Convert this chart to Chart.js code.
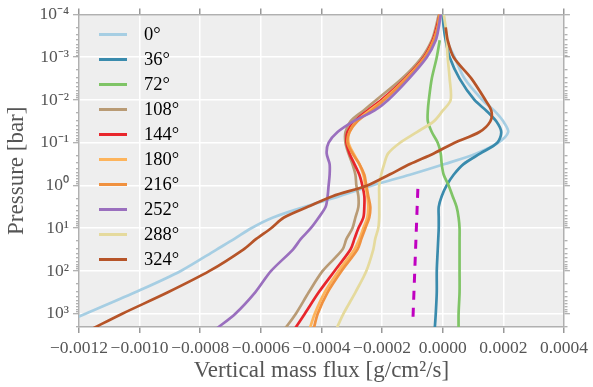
<!DOCTYPE html>
<html>
<head>
<meta charset="utf-8">
<script src="https://cdn.jsdelivr.net/npm/chart.js@4.4.1/dist/chart.umd.min.js"></script>
<style>
  body { margin: 0; background: #fff; }
  #wrap { position: relative; width: 593px; height: 387px; }
  #legenda { position: absolute; left: 0; top: 0; font-family: "Liberation Serif", serif; font-size: 18.5px; color: #000; }
  .item { position: absolute; left: 99px; }
  .amostra { position: absolute; left: 0; top: -1.5px; width: 28px; height: 3px; }
  .texto { position: absolute; left: 45px; top: -11px; line-height: 22px; white-space: nowrap; }
</style>
</head>
<body>
<div id="wrap">
  <canvas id="grafico" width="593" height="387"></canvas>
  <div id="legenda"></div>
</div>
<script>
// pressure levels [bar]
const pressure = [1e-4, 2e-4, 4e-4, 1e-3, 3.16e-3, 1e-2, 1.78e-2, 3.16e-2, 5.62e-2, 0.1, 0.178, 0.316,
  0.562, 1, 1.78, 3.16, 5.62, 10, 17.8, 31.6, 100, 316, 1000, 2240];

// vertical mass flux [g/cm2/s] for each longitude
const flux0 = [0.033e-4, 0.065e-4, 0.131e-4, 0.393e-4, 0.720e-4, 1.309e-4, 1.702e-4, 1.997e-4, 2.160e-4, 1.833e-4,
  1.113e-4, 0.065e-4, -1.080e-4, -2.324e-4, -3.404e-4, -4.549e-4, -5.597e-4, -6.317e-4, -6.873e-4, -7.462e-4,
  -8.641e-4, -10.146e-4, -11.783e-4, -12.961e-4];
const flux36 = [0, 0.033e-4, 0.098e-4, 0.229e-4, 0.556e-4, 1.047e-4, 1.440e-4, 1.767e-4, 1.931e-4, 1.800e-4,
  1.244e-4, 0.687e-4, 0.360e-4, 0.131e-4, -0.033e-4, -0.131e-4, -0.131e-4, -0.131e-4, -0.147e-4, -0.164e-4,
  -0.196e-4, -0.196e-4, -0.229e-4, -0.262e-4];
const flux72 = [null, null, -0.098e-4, -0.196e-4, -0.360e-4, -0.458e-4, -0.491e-4, -0.491e-4, -0.360e-4, -0.164e-4,
  -0.065e-4, -0.033e-4, 0.033e-4, 0.196e-4, 0.327e-4, 0.458e-4, 0.524e-4, 0.556e-4, 0.556e-4, 0.556e-4,
  0.556e-4, 0.556e-4, 0.524e-4, 0.524e-4];
const flux108 = [-0.131e-4, -0.229e-4, -0.360e-4, -0.687e-4, -1.342e-4, -2.193e-4, -2.618e-4, -3.044e-4, -3.208e-4, -3.208e-4,
  -3.109e-4, -2.978e-4, -2.880e-4, -2.848e-4, -2.782e-4, -2.782e-4, -2.880e-4, -2.978e-4, -3.175e-4, -3.306e-4,
  -3.960e-4, -4.419e-4, -4.844e-4, -5.204e-4];
const flux144 = [-0.098e-4, -0.196e-4, -0.327e-4, -0.622e-4, -1.244e-4, -2.029e-4, -2.487e-4, -2.913e-4, -3.142e-4, -3.175e-4,
  -3.077e-4, -2.913e-4, -2.749e-4, -2.651e-4, -2.586e-4, -2.586e-4, -2.618e-4, -2.782e-4, -2.913e-4, -3.044e-4,
  -3.568e-4, -4.091e-4, -4.549e-4, -4.877e-4];
const flux180 = [-0.098e-4, -0.164e-4, -0.295e-4, -0.589e-4, -1.211e-4, -1.964e-4, -2.422e-4, -2.848e-4, -3.077e-4, -3.109e-4,
  -2.946e-4, -2.749e-4, -2.618e-4, -2.553e-4, -2.487e-4, -2.455e-4, -2.487e-4, -2.618e-4, -2.749e-4, -2.913e-4,
  -3.437e-4, -3.895e-4, -4.222e-4, -4.386e-4];
const flux216 = [-0.098e-4, -0.164e-4, -0.295e-4, -0.589e-4, -1.178e-4, -1.931e-4, -2.357e-4, -2.815e-4, -3.077e-4, -3.142e-4,
  -2.978e-4, -2.749e-4, -2.586e-4, -2.520e-4, -2.455e-4, -2.389e-4, -2.422e-4, -2.553e-4, -2.684e-4, -2.815e-4,
  -3.338e-4, -3.797e-4, -4.124e-4, -4.255e-4];
const flux252 = [-0.065e-4, -0.131e-4, -0.229e-4, -0.524e-4, -1.113e-4, -1.800e-4, -2.258e-4, -2.946e-4, -3.469e-4, -3.764e-4,
  -3.829e-4, -3.731e-4, -3.731e-4, -3.764e-4, -3.797e-4, -3.862e-4, -4.091e-4, -4.353e-4, -4.680e-4, -4.942e-4,
  -5.662e-4, -6.186e-4, -6.841e-4, -7.462e-4];
const flux288 = [0.033e-4, 0.098e-4, 0.131e-4, 0.164e-4, 0.229e-4, 0.262e-4, 0, -0.295e-4, -0.851e-4, -1.407e-4,
  -1.800e-4, -1.931e-4, -2.029e-4, -2.095e-4, -2.095e-4, -2.095e-4, -2.095e-4, -2.127e-4, -2.226e-4, -2.291e-4,
  -2.520e-4, -2.880e-4, -3.273e-4, -3.502e-4];
const flux324 = [null, 0.098e-4, 0.164e-4, 0.360e-4, 0.949e-4, 1.407e-4, 1.604e-4, 1.571e-4, 1.211e-4, 0.393e-4,
  -0.295e-4, -1.080e-4, -1.767e-4, -2.487e-4, -3.633e-4, -4.451e-4, -5.237e-4, -5.662e-4, -6.153e-4, -6.579e-4,
  -7.692e-4, -9.066e-4, -10.572e-4, -11.554e-4];

// dashed reference segment
const refFlux = [-0.82e-4, -0.98e-4];
const refPressure = [1.2, 1230];

const labels = ["0°", "36°", "72°", "108°", "144°", "180°", "216°", "252°", "288°", "324°"];
const colors = ["#a6cee3", "#3a8bad", "#7fc466", "#b99b75", "#e8262c", "#fdb45c", "#f0913f", "#9a6fbe", "#e5da9d", "#b65428"];

const xTickValues = [-0.0012, -0.0010, -0.0008, -0.0006, -0.0004, -0.0002, 0, 0.0002, 0.0004];
const xTickLabels = ["−0.0012", "−0.0010", "−0.0008", "−0.0006", "−0.0004", "−0.0002", "0.0000", "0.0002", "0.0004"];
const yTickValues = [1e-4, 1e-3, 1e-2, 1e-1, 1, 10, 100, 1000];
const yTickLabels = ["10⁻⁴", "10⁻³", "10⁻²", "10⁻¹", "10⁰", "10¹", "10²", "10³"];

const series = [flux0, flux36, flux72, flux108, flux144, flux180, flux216, flux252, flux288, flux324];

const datasets = series.map((vals, i) => ({
  label: labels[i],
  data: pressure.map((p, j) => ({ x: vals[j], y: p })).filter((pt) => pt.x !== null),
  borderColor: colors[i],
  backgroundColor: colors[i],
  borderWidth: 2.7,
  pointRadius: 0,
  showLine: true,
  tension: 0.3,
  order: 20 - i, // later series on top
}));
datasets.push({
  label: "",
  data: refFlux.map((v, j) => ({ x: v, y: refPressure[j] })),
  borderColor: "#c000c0",
  borderWidth: 3,
  borderDash: [9, 8],
  pointRadius: 0,
  showLine: true,
  order: 0,
});

const fonte = { family: "'Liberation Serif', serif", size: 17.5 };
const fonteTitulo = { family: "'Liberation Serif', serif", size: 23 };

function yTicks(scale) {
  const t = [];
  yTickValues.forEach((d) => {
    for (let m = 1; m <= 9; m++) {
      const v = m * d;
      if (v <= scale.max * 1.0001) t.push({ value: v, major: m === 1 });
    }
  });
  scale.ticks = t;
}
function xTicks(scale) {
  scale.ticks = xTickValues.map((v) => ({ value: v, major: true }));
}

const fundo = {
  id: "fundo",
  beforeDraw(chart) {
    const { ctx, chartArea: a } = chart;
    ctx.save();
    ctx.fillStyle = "#eeeeee";
    ctx.fillRect(a.left, a.top, a.right - a.left, a.bottom - a.top);
    ctx.restore();
  },
};

const eixoY = (pos) => ({
  type: "logarithmic",
  position: pos,
  reverse: true,
  min: 1e-4,
  max: 2050,
  afterBuildTicks: yTicks,
  afterFit: (s) => { s.width = pos === "left" ? 79 : 24; },
  border: { display: true, color: "#b0b0b0", width: 1.5 },
  grid: {
    drawOnChartArea: pos === "left",
    color: (c) => (c.tick && c.tick.major ? "#ffffff" : "rgba(0,0,0,0)"),
    lineWidth: 1.5,
    tickLength: 6,
    tickColor: "#999",
    tickWidth: 1,
    // short marks for the minor ticks
    tickBorderDash: (c) => (c.tick && c.tick.major ? [] : (pos === "left" ? [0, 3, 3, 100] : [3, 100])),
  },
  ticks: {
    display: pos === "left",
    autoSkip: false,
    padding: 4,
    color: "#555",
    font: fonte,
    callback: (v) => {
      const k = yTickValues.findIndex((t) => Math.abs(Math.log10(t) - Math.log10(v)) < 1e-6);
      return k >= 0 ? yTickLabels[k] : "";
    },
  },
  title: {
    display: pos === "left",
    text: "Pressure [bar]",
    color: "#555",
    font: fonteTitulo,
    padding: { top: 3, bottom: 0 },
  },
});

const eixoX = (pos) => ({
  type: "linear",
  position: pos,
  min: -0.0012,
  max: 0.0004,
  afterBuildTicks: xTicks,
  afterFit: (s) => { s.height = pos === "bottom" ? 60 : 12; },
  border: { display: true, color: "#b0b0b0", width: 1.5 },
  grid: {
    drawOnChartArea: pos === "bottom",
    color: "#ffffff",
    lineWidth: 1.5,
    tickLength: 6,
    tickColor: "#999",
  },
  ticks: {
    display: pos === "bottom",
    autoSkip: false,
    maxRotation: 0,
    padding: 5,
    color: "#555",
    font: fonte,
    callback: (v, i) => xTickLabels[i],
  },
  title: {
    display: pos === "bottom",
    text: "Vertical mass flux [g/cm²/s]",
    color: "#555",
    font: fonteTitulo,
    padding: { top: 0, bottom: 2 },
  },
});

const grafico = new Chart(document.getElementById("grafico"), {
  type: "scatter",
  data: { datasets: datasets },
  options: {
    responsive: false,
    animation: false,
    layout: { padding: 0 },
    plugins: {
      legend: { display: false },
      tooltip: { enabled: false },
    },
    scales: {
      x: eixoX("bottom"),
      x2: eixoX("top"),
      y: eixoY("left"),
      y2: eixoY("right"),
    },
  },
  plugins: [fundo],
});

// legend drawn in html, inside the plot area
const legenda = document.getElementById("legenda");
grafico.data.datasets.slice(0, labels.length).forEach((ds, i) => {
  const item = document.createElement("div");
  item.className = "item";
  item.style.top = (34.3 + i * 25) + "px";
  item.innerHTML = '<div class="amostra" style="background:' + ds.borderColor + '"></div><span class="texto">' + ds.label + "</span>";
  legenda.appendChild(item);
});
</script>
</body>
</html>
